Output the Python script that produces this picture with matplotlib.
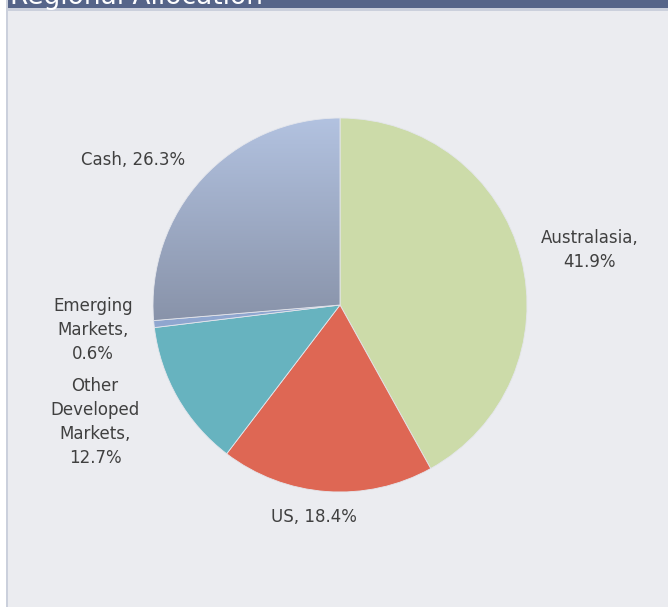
import numpy as np
import matplotlib.pyplot as plt
from matplotlib.patches import Rectangle
from matplotlib.colors import LinearSegmentedColormap

# data
labels = ["Australasia", "US", "Other\nDeveloped\nMarkets", "Emerging\nMarkets", "Cash"]
values = [41.9, 18.4, 12.7, 0.6, 26.3]
colors = ["#CCDBA9", "#DE6754", "#67B3BF", "#8FA6CF", "#B3C3E1"]
label_text = ["Australasia,\n41.9%", "US, 18.4%", "Other\nDeveloped\nMarkets,\n12.7%",
              "Emerging\nMarkets,\n0.6%", "Cash, 26.3%"]

W, H = 668, 607
cx, cy, R = 340, 305, 187

fig = plt.figure(figsize=(W / 100, H / 100), dpi=100, facecolor="white")

# panel frame (pixel coords, y downward)
def px_rect(x0, y0, x1, y1, color):
    fig.patches.append(Rectangle((x0 / W, 1 - y1 / H), (x1 - x0) / W, (y1 - y0) / H,
                                 transform=fig.transFigure, facecolor=color,
                                 edgecolor="none", zorder=-5))

px_rect(6, 0, W, H, "#CBD0DC")
px_rect(8, 11, W, H, "#EBECF0")
px_rect(8, 0, W, 8, "#566589")
fig.text(10 / W, 1 - 4 / H, "Regional Allocation", color="white", fontsize=19,
         va="baseline", ha="left", family="DejaVu Sans", zorder=-4)

ax = fig.add_axes([0, 0, 1, 1])
ax.patch.set_visible(False)
ax.axis("off")

wedges, _ = ax.pie(values, colors=colors, startangle=90, counterclock=False,
                   radius=1, wedgeprops=dict(edgecolor="#E4E6EC", linewidth=0.6))

# gradient fill on the cash slice
cash = wedges[-1]
cmap = LinearSegmentedColormap.from_list("cash", ["#8690A6", "#B3C3E1"])
grad = np.linspace(0, 1, 256).reshape(-1, 1)
img = ax.imshow(grad, cmap=cmap, extent=[-1.05, 0.05, -0.15, 1.02], origin="lower",
                aspect="auto", zorder=cash.get_zorder() + 0.1)
img.set_clip_path(cash)
cash.set_facecolor("none")
cash.set_zorder(img.get_zorder() + 0.1)
ax.set_aspect("auto")
ax.set_xlim(-cx / R, (W - cx) / R)
ax.set_ylim(-(H - cy) / R, cy / R)

# label placement (pixel centres)
label_pos = [(590, 250), (314, 517), (95, 422), (93, 330), (133, 160)]
for txt, (lx, ly) in zip(label_text, label_pos):
    ax.text((lx - cx) / R, (cy - ly) / R, txt, ha="center", va="center",
            fontsize=12, color="#404040", linespacing=1.45, family="DejaVu Sans")

fig.savefig("out.png", dpi=100)
